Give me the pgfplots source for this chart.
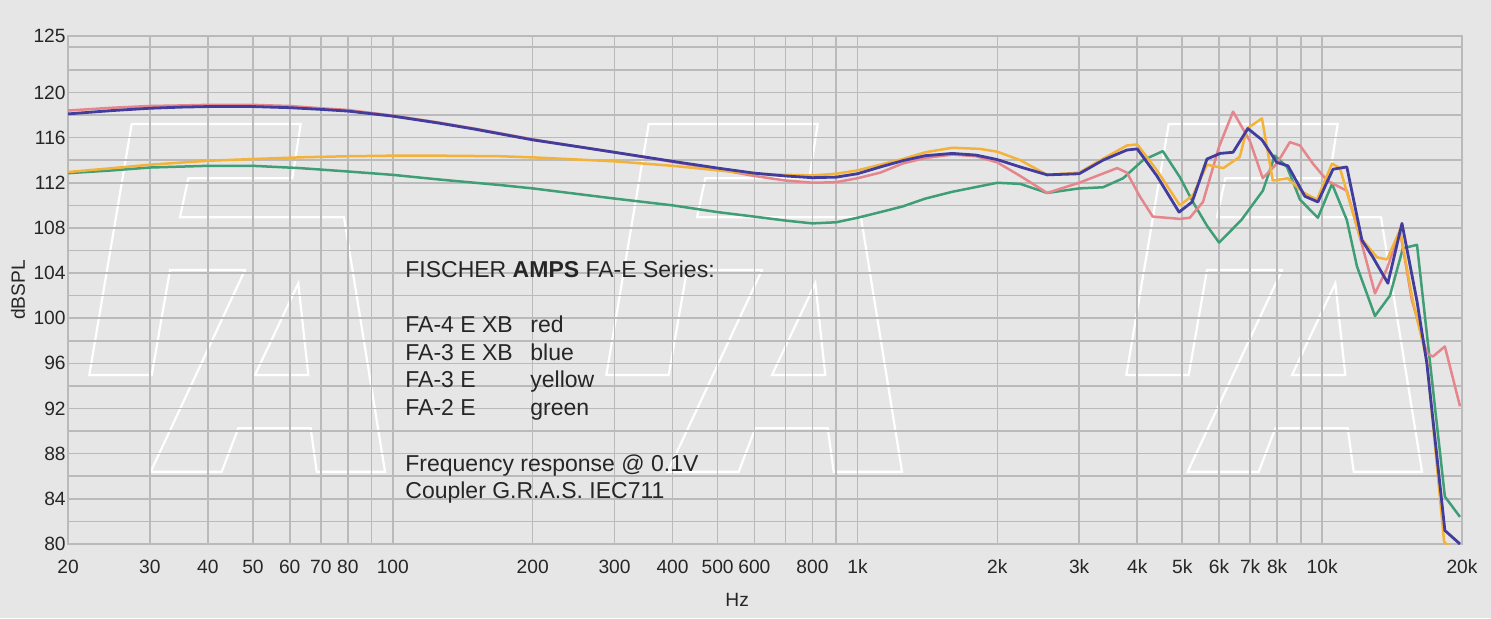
\documentclass[border=0pt]{standalone}
\usepackage{fontspec}
\setmainfont{Liberation Sans}
\usepackage{pgfplots}
\pgfplotsset{compat=1.18}

\definecolor{bg}{HTML}{E6E6E6}
\definecolor{gridc}{HTML}{BABABA}
\definecolor{cred}{HTML}{E5868C}
\definecolor{cblue}{HTML}{423C9C}
\definecolor{cyellow}{HTML}{F3B23A}
\definecolor{cgreen}{HTML}{3F9E76}

\begin{document}
\begin{tikzpicture}
\fill[bg] (-34pt,-37pt) rectangle (711.5pt,272pt);
\path[use as bounding box] (-34pt,-37pt) rectangle (711.5pt,272pt);
% FA watermark, in pixel units of the picture
\begin{scope}[x=0.5pt,y=-0.5pt,shift={(-34pt,272pt)}]
  \foreach \dx in {0,517,1037} {
    \begin{scope}[shift={(\dx,0)}]
      \draw[white, line width=1.1pt, line join=miter]
        (131.7,124) -- (300.7,124) -- (292.3,178.3) -- (188.3,178.3) -- (180,217.3)
        -- (344,217.3) -- (385,471.7) -- (316.7,471.7) -- (310.7,428.3) -- (238.3,428.3)
        -- (221.7,471.7) -- (150.7,471.7) -- (245,270) -- (170,270) -- (151.7,375)
        -- (89.3,375) -- cycle;
      \draw[white, line width=1.1pt] (298.3,283.3) -- (308.3,375) -- (255,375) -- cycle;
    \end{scope}
  }
\end{scope}

\begin{axis}[
  at={(0,0)}, anchor=south west,
  scale only axis, width=697pt, height=254pt,
  xmode=log, xmin=20, xmax=20000, ymin=80, ymax=125,
  xtick={20,30,40,50,60,70,80,100,200,300,400,500,600,800,1000,2000,3000,4000,5000,6000,7000,8000,10000,20000},
  xticklabels={20,30,40,50,60,70,80,100,200,300,400,500,600,800,1k,2k,3k,4k,5k,6k,7k,8k,10k,20k},
  minor xtick={90,700,900,9000},
  ytick={80,84,...,120,125},
  yticklabels={80,84,88,92,96,100,104,108,112,116,120,125},
  minor ytick={82,86,...,122,124},
  grid=both,
  major grid style={gridc, line width=0.8pt},
  minor grid style={gridc, line width=0.8pt},
  axis line style={gridc, line width=0.8pt},
  tick style={draw=none},
  tick label style={font=\fontsize{9.6}{11}\selectfont, text=black!85},
  xticklabel style={anchor=center, yshift=-11.5pt},
  yticklabel style={anchor=east, inner sep=0pt, xshift=-1pt},
  xlabel={Hz}, ylabel={dBSPL},
  label style={font=\fontsize{9.6}{11}\selectfont, text=black!85},
  xlabel style={at={(axis description cs:0.48,-0.110)}, anchor=center},
  ylabel style={at={(axis description cs:-0.0359,0.5)}, anchor=center},
  every axis plot/.append style={line width=1.25pt, line join=round},
]
% FA-2 E (green)
\addplot[cgreen] table {
20 112.85
25 113.1
30 113.35
40 113.5
50 113.5
63 113.3
80 113.0
100 112.7
125 112.3
170 111.8
200 111.5
300 110.6
400 110.0
500 109.4
600 109.0
700 108.65
800 108.4
900 108.5
1000 108.9
1120 109.4
1250 109.9
1400 110.6
1600 111.2
2000 112.0
2240 111.9
2560 111.1
3000 111.5
3375 111.6
3730 112.4
4115 114.0
4540 114.8
4940 112.5
5270 110.3
5650 108.2
6000 106.7
6700 108.7
7455 111.3
7910 114.4
8400 113.4
8960 110.5
9790 108.9
10500 111.9
11300 108.7
11880 104.6
12990 100.2
13990 102.0
14920 106.2
16000 106.5
18370 84.2
19800 82.4
};
% FA-4 E XB (red)
\addplot[cred] table {
20 118.4
25 118.65
30 118.8
35 118.85
40 118.9
50 118.9
60 118.8
70 118.6
80 118.45
100 117.95
125 117.35
150 116.8
200 115.85
250 115.2
300 114.7
400 113.85
500 113.2
600 112.6
700 112.2
800 112.0
900 112.05
1000 112.4
1120 112.9
1250 113.7
1400 114.2
1600 114.5
1800 114.35
2000 113.8
2240 112.6
2560 111.1
3000 112.0
3620 113.3
3800 112.9
4050 110.8
4320 109.0
4940 108.8
5190 108.9
5540 110.3
6000 115.2
6430 118.3
6990 115.7
7450 112.4
7990 113.7
8520 115.6
8960 115.3
9550 113.7
10240 112.2
10920 111.6
11300 111.3
12240 106.2
12990 102.2
13790 104.4
14700 107.8
15600 101.6
16800 96.9
17300 96.6
18370 97.5
19800 92.2
};
% FA-3 E (yellow)
\addplot[cyellow] table {
20 112.95
25 113.3
30 113.6
40 113.95
50 114.1
63 114.25
80 114.35
100 114.4
125 114.4
170 114.35
200 114.25
300 113.9
400 113.5
500 113.1
600 112.8
700 112.7
800 112.65
900 112.8
1000 113.1
1120 113.6
1250 114.1
1400 114.7
1600 115.1
1835 115.0
2000 114.75
2240 114.0
2560 112.7
3000 112.9
3400 114.2
3800 115.3
4000 115.4
4410 113.1
4940 110.0
5270 110.9
5650 113.6
6130 113.3
6650 114.3
6890 116.8
7420 117.7
7830 112.2
8440 112.4
9050 111.2
9745 110.5
10500 113.7
10920 113.3
12060 107.2
13120 105.4
13790 105.2
14700 107.8
15680 101.5
16800 96.3
18300 80.2
19600 79.0
};
% FA-3 E XB (blue)
\addplot[cblue, line width=1.4pt] table {
20 118.1
25 118.4
30 118.6
35 118.7
40 118.75
50 118.75
60 118.65
70 118.5
80 118.35
100 117.9
125 117.3
150 116.75
200 115.8
250 115.2
300 114.7
400 113.9
500 113.3
600 112.85
700 112.6
800 112.45
900 112.5
1000 112.8
1120 113.4
1250 113.95
1400 114.4
1600 114.6
1800 114.45
2000 114.05
2240 113.4
2560 112.7
3000 112.8
3375 114.0
3800 114.9
4000 115.0
4410 112.6
4920 109.4
5250 110.3
5650 114.1
6030 114.6
6430 114.7
6920 116.8
7420 115.8
7990 113.8
8440 113.5
9180 110.8
9790 110.3
10550 113.2
11300 113.4
12180 106.9
12860 105.4
13850 103.1
14850 108.4
16000 101.5
16800 96.0
18370 81.2
19800 80.0
};
\end{axis}

\begin{scope}[every node/.style={anchor=base west, inner sep=0pt, font=\fontsize{11.5}{13}\selectfont, text=black!85}]
  \node at (168.5pt,133.2pt) {FISCHER \textbf{AMPS} FA-E Series:};
  \node at (168.5pt,105.8pt) {FA-4 E XB};
  \node at (231pt,105.8pt) {red};
  \node at (168.5pt,92pt) {FA-3 E XB};
  \node at (231pt,92pt) {blue};
  \node at (168.5pt,78.2pt) {FA-3 E};
  \node at (231pt,78.2pt) {yellow};
  \node at (168.5pt,64.4pt) {FA-2 E};
  \node at (231pt,64.4pt) {green};
  \node at (168.5pt,36.5pt) {Frequency response @ 0.1V};
  \node at (168.5pt,22.75pt) {Coupler G.R.A.S. IEC711};
\end{scope}
\end{tikzpicture}
\end{document}
